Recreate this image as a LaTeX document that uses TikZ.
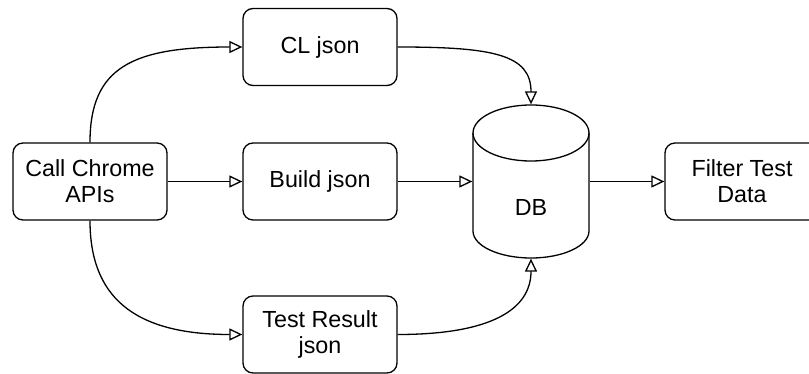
\documentclass[tikz,border=0pt]{standalone}
\usepackage{fontspec}
\setmainfont{Liberation Sans}
\usetikzlibrary{arrows.meta}
\begin{document}
\begin{tikzpicture}[x=1pt,y=-1pt,
  line width=1.3pt,
  box/.style={draw, rounded corners=10pt, minimum width=154pt, minimum height=77pt,
    inner sep=0pt, align=center, font=\fontsize{23.3}{26}\selectfont},
  conn/.style={-{Triangle[open, length=13pt, width=12pt]}}]
\useasboundingbox (0,0) rectangle (809,374);
\node[box] (call) at (90,181.5) {Call Chrome\\APIs};
\node[box] (cl) at (320,47) {CL json};
\node[box] (build) at (320,181.5) {Build json};
\node[box] (test) at (320,334.5) {Test Result\\json};
\node[box] (filter) at (742,181.5) {Filter Test\\Data};
% DB cylinder
\node[minimum width=116pt, minimum height=153pt, inner sep=0pt] (DB) at (531,181.5) {};
\draw (473,133) -- (473,231) arc[start angle=180, end angle=360, x radius=58pt, y radius=27pt]
  -- (589,133) arc[start angle=0, end angle=180, x radius=58pt, y radius=28pt] -- cycle;
\draw (473,133) arc[start angle=180, end angle=360, x radius=58pt, y radius=28pt];
\node[font=\fontsize{23.3}{26}\selectfont] (dblabel) at (531,207) {DB};
% connectors
\draw[conn] (call.north) .. controls +(0,-75) and +(-110,0) .. (cl.west);
\draw[conn] (call.east) -- (build.west);
\draw[conn] (call.south) .. controls +(0,75) and +(-110,0) .. (test.west);
\draw[conn] (cl.east) .. controls +(95,0) and +(0,-50) .. (DB.north);
\draw[conn] (build.east) -- (DB.west);
\draw[conn] (test.east) .. controls +(95,0) and +(0,50) .. (DB.south);
\draw[conn] (DB.east) -- (filter.west);
\end{tikzpicture}
\end{document}
